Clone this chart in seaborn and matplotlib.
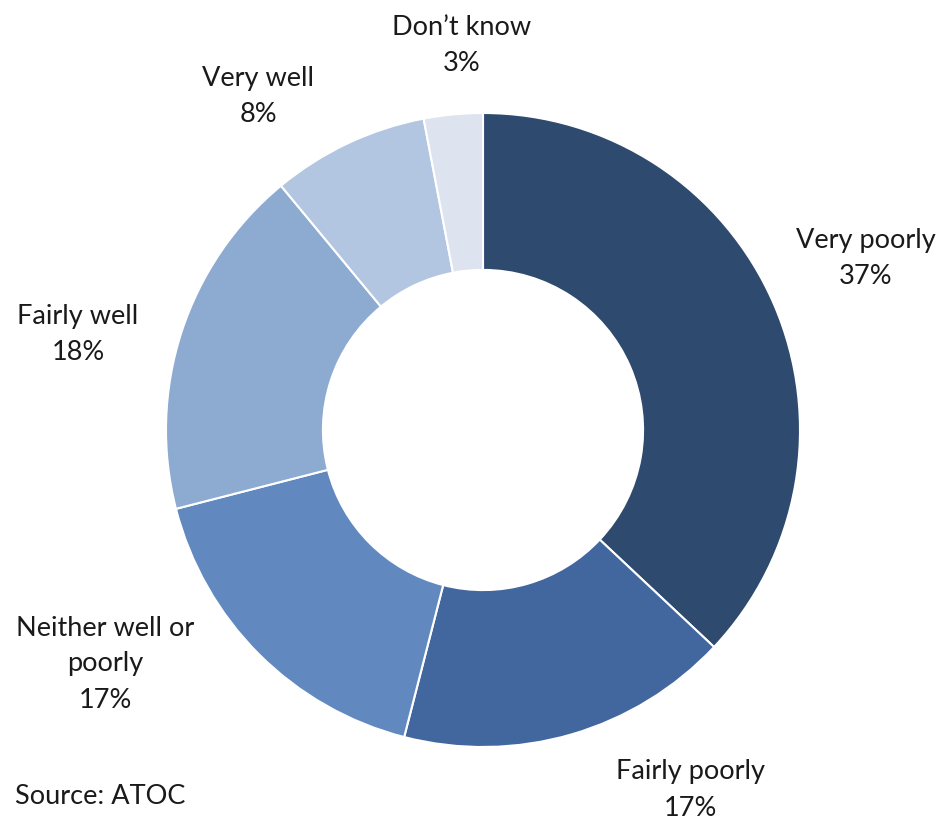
import matplotlib
matplotlib.use("Agg")
import matplotlib.pyplot as plt
import seaborn as sns

# data
categories = ["Very poorly", "Fairly poorly", "Neither well or\npoorly",
              "Fairly well", "Very well", "Don\u2019t know"]
shares = [37, 17, 17, 18, 8, 3]
colors = ["#2E4A6E", "#41679E", "#6189C0", "#8DAAD1", "#B3C6E1", "#DDE4F0"]

sns.set_style("white")
plt.rcParams["font.family"] = ["Lato", "DejaVu Sans"]

W, H = 941, 821
fig = plt.figure(figsize=(W / 100, H / 100), dpi=100)
ax = fig.add_axes([0, 0, 1, 1])

# pie centre / radius in pixels
cx, cy, r = 483, 430, 317

ax.pie(shares, colors=colors, startangle=90, counterclock=False, radius=1,
       wedgeprops=dict(width=0.495, edgecolor="white", linewidth=1.5))

ax.set_xlim(-cx / r, (W - cx) / r)
ax.set_ylim(-(H - cy) / r, cy / r)
ax.axis("off")

# label centres in pixels (hand placed like the original)
label_px = [(866, 258), (690, 790), (105, 664), (78, 334), (258, 96), (462, 45)]
for name, val, (px, py) in zip(categories, shares, label_px):
    ax.text((px - cx) / r, (cy - py) / r, f"{name}\n{val}%", ha="center",
            va="center", fontsize=19.5, color="#1a1a1a", linespacing=1.55)

ax.text((100 - cx) / r, (cy - 797) / r, "Source: ATOC", ha="center",
        va="center", fontsize=19.5, color="#1a1a1a")

fig.savefig("out.png", dpi=100)
